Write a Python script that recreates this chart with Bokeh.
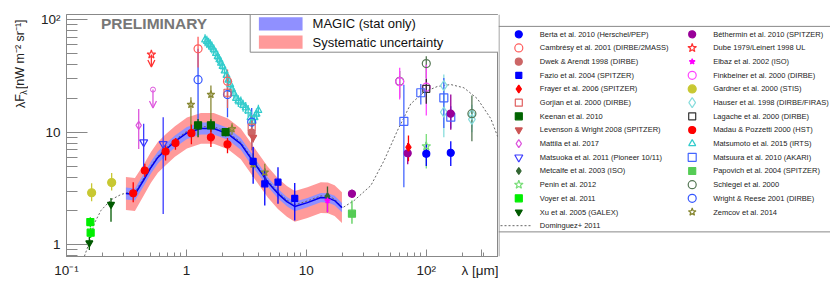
from bokeh.plotting import figure
from bokeh.layouts import row
from bokeh.models import Range1d, FixedTicker, Label, Arrow, OpenHead, Span, BoxAnnotation
from bokeh.core.properties import value
from bokeh.embed import file_html
from bokeh.resources import INLINE

FONT = "Liberation Sans"

# ---------------- MAGIC EBL band ----------------
magic_lam = [0.313, 0.372, 0.443, 0.506, 0.578, 0.675, 0.802, 1.01, 1.32, 1.69, 2.22, 2.84, 3.65,
             4.77, 5.79, 6.88, 8.0, 10.2, 13.2, 15.1, 17.2, 19.8]
magic_f = [2.85, 2.80, 3.80, 4.86, 5.97, 7.02, 8.27, 9.84, 10.8, 10.8, 9.67, 7.88, 5.38,
           3.60, 2.85, 2.42, 2.19, 2.37, 2.63, 2.61, 2.47, 2.14]
magic_stat_lo = [2.52, 2.48, 3.36, 4.30, 5.28, 6.21, 7.32, 8.71, 9.56, 9.56, 8.56, 6.97, 4.76,
                 3.27, 2.59, 2.20, 1.99, 2.15, 2.39, 2.37, 2.25, 1.95]
magic_stat_hi = [3.22, 3.16, 4.29, 5.49, 6.75, 7.93, 9.35, 11.1, 12.2, 12.2, 10.9, 8.90, 6.08,
                 3.96, 3.14, 2.66, 2.41, 2.61, 2.89, 2.87, 2.72, 2.35]
magic_syst_lo = [2.04, 2.00, 2.77, 3.55, 4.36, 5.12, 6.04, 7.18, 7.88, 7.88, 7.06, 5.75, 3.93,
                 2.63, 2.08, 1.77, 1.60, 1.73, 1.92, 1.91, 1.80, 1.56]
magic_syst_hi = [3.99, 3.92, 5.21, 6.66, 8.18, 9.62, 11.3, 13.5, 14.8, 14.8, 13.2, 10.8, 7.37,
                 4.93, 3.90, 3.32, 3.00, 3.25, 3.60, 3.58, 3.38, 2.93]

# ---------------- Dominguez+ 2011 model ----------------
dom_lam = [0.141, 0.155, 0.170, 0.194, 0.235, 0.285, 0.324, 0.372, 0.443, 0.506, 0.578, 0.675,
           0.802, 1.01, 1.32, 1.69, 2.22, 2.84, 3.65, 4.77, 5.79, 6.88, 8.0, 10.2, 13.2, 15.1,
           17.2, 20.0, 25.0, 34.5, 44.5, 57.5, 74.3, 95.9, 124, 160, 206, 267, 345, 400]
dom_f = [0.79, 1.05, 1.54, 2.02, 2.51, 2.80, 2.90, 2.92, 3.95, 5.0, 6.15, 7.25,
         8.55, 10.2, 11.2, 11.2, 10.0, 8.15, 5.55, 3.72, 2.95, 2.50, 2.26, 2.45, 2.72, 2.70,
         2.55, 2.13, 2.47, 3.36, 5.61, 10.35, 17.9, 22.7, 25.5, 26.5, 24.8, 19.8, 13.2, 8.74]

# ---------------- measurements: wavelength [um], value, lower, upper ----------------
berta_lam = [100, 160]; berta_f = [6.43, 6.56]; berta_lo = [5.0, 5.0]; berta_hi = [8.2, 8.3]
cambresy_lam = [1.25, 2.2]; cambresy_f = [55, 28.4]; cambresy_lo = [37.6, 20.8]; cambresy_hi = [70.3, 36]
dwek_lam = [3.5]; dwek_f = [9.9]; dwek_lo = [7.0]; dwek_hi = [12.8]
fazio_lam = [3.6, 4.5, 5.8, 8.0]; fazio_f = [5.5, 3.48, 3.6, 2.58]
fazio_lo = [3.48, 2.23, 2.31, 1.64]; fazio_hi = [7.37, 4.73, 4.89, 3.53]
frayer_lam = [71]; frayer_f = [7.35]; frayer_lo = [5.53]; frayer_hi = [9.36]
gorjian_lam = [2.2, 3.5]; gorjian_f = [22.4, 11.0]; gorjian_lo = [16.4, 7.7]; gorjian_hi = [28.4, 14.3]
keenan_lam = [1.25, 1.6, 2.12]; keenan_f = [11.5, 11.5, 10.0]
keenan_lo = [9.0, 10.0, 9.2]; keenan_hi = [13.1, 13.0, 10.8]
levenson_lam = [3.6]; levenson_f = [9.0]; levenson_lo = [8.1]; levenson_hi = [10.7]
mattila_lam = [0.40]; mattila_f = [11.5]; mattila_lo = [7.1]; mattila_hi = [16.1]
mattila_ul_lam = [0.526]; mattila_ul_f = [23.9]; mattila_ul_end = [16.4]
matsuoka_lam = [0.44, 0.64]; matsuoka_f = [8.15, 7.87]; matsuoka_lo = [4.4, 1.88]; matsuoka_hi = [11.9, 13.6]
metcalfe_lam = [15]; metcalfe_f = [2.69]; metcalfe_lo = [1.95]; metcalfe_hi = [3.29]
penin_lam = [100]; penin_f = [7.5]; penin_lo = [4.76]; penin_hi = [9.66]
voyer_lam = [0.158, 0.159]; voyer_f = [1.59, 1.28]; voyer_lo = [1.43, 1.15]; voyer_hi = [1.76, 1.42]
xu_lam = [0.155, 0.235]; xu_f = [1.04, 2.28]; xu_lo = [0.90, 1.60]; xu_hi = [1.18, 2.60]
bethermin_lam = [24, 70, 160]; bethermin_f = [2.84, 6.5, 14.6]
bethermin_lo = [2.6, 5.2, 10.5]; bethermin_hi = [3.1, 8.0, 21.6]
dube_lam = [0.51]; dube_f = [49]; dube_end = [37.9]
elbaz_lam = [15]; elbaz_f = [2.47]; elbaz_lo = [1.95]; elbaz_hi = [2.9]
finkbeiner_lam = [60, 100]; finkbeiner_f = [28.1, 25.1]; finkbeiner_lo = [19.5, 14.1]; finkbeiner_hi = [37.3, 39.7]
gardner_lam = [0.162, 0.238]; gardner_f = [2.9, 3.57]; gardner_lo = [2.44, 3.03]; gardner_hi = [3.52, 4.33]
hauser_lam = [140, 140, 240, 240]; hauser_f = [25.9, 15.1, 14.4, 13.0]
hauser_lo = [18, 9, 11, 10]; hauser_hi = [32.6, 22, 17.5, 16]
lagache_lam = [100]; lagache_f = [24.3]; lagache_lo = [17.9]; lagache_hi = [29.9]
madau_lam = [0.36, 0.45, 0.67, 0.81, 1.1, 1.6, 2.2]
madau_f = [2.87, 4.57, 6.74, 8.0, 9.8, 9.0, 7.8]
madau_lo = [2.39, 3.99, 5.6, 7.0, 7.8, 7.4, 6.5]
madau_hi = [3.6, 5.24, 7.73, 8.9, 11.7, 11.3, 8.9]
matsumoto_lam = [1.43, 1.48, 1.53, 1.58, 1.63, 1.69, 1.76, 1.82, 1.88, 1.94, 2.0, 2.08, 2.16, 2.24,
                 2.32, 2.40, 2.49, 2.59, 2.71, 2.84, 2.97, 3.12, 3.27, 3.42, 3.56, 3.70, 3.84, 3.98]
matsumoto_f = [66, 64, 62, 60, 57, 54, 50, 47, 44, 41, 38.5, 35, 32, 29,
               26.5, 24, 22, 20, 19, 18.5, 17.3, 16.5, 15.5, 13.5, 12.5, 13.5, 14.5, 15.6]
matsumoto_lo = [58, 56, 55, 53, 50, 47.5, 44, 41, 39, 36, 34, 31, 28, 25.5,
                23.3, 21, 19.4, 17.6, 16.7, 16.3, 15.2, 14.5, 13.6, 11.9, 11.0, 11.9, 12.8, 13.7]
matsumoto_hi = [74, 72, 69, 67, 64, 60, 56, 53, 49, 46, 43, 39, 36, 32.5,
                29.7, 27, 24.6, 22.4, 21.3, 20.7, 19.4, 18.5, 17.4, 15.1, 14.0, 15.1, 16.2, 17.5]
matsuura_lam = [65, 90, 140, 160]; matsuura_f = [12.5, 22.4, 20.2, 13.6]
matsuura_lo = [3.25, 17.6, 10.9, 10.8]; matsuura_hi = [26.4, 26.8, 30.3, 17.0]
papovich_lam = [24]; papovich_f = [1.89]; papovich_lo = [1.54]; papovich_hi = [2.48]
schlegel_lam = [60, 100, 240]; schlegel_f = [28.3, 40.7, 14.6]
schlegel_lo = [20.2, 30.3, 8.3]; schlegel_hi = [34.9, 47.3, 21.2]
wright_lam = [1.25, 2.2, 3.5]; wright_f = [29.3, 21.6, 12.3]
wright_lo = [10.8, 13.6, 6.9]; wright_hi = [55, 28.8, 16.4]
zemcov_lam = [1.09, 1.6, 2.4, 3.6, 4.5]; zemcov_f = [17.6, 21.6, 10.7, 5.2, 4.4]
zemcov_lo = [9.7, 11.1, 9.5, 4.0, 3.7]; zemcov_hi = [20.4, 26.0, 12.0, 6.5, 5.24]

# axis ticks and labels
x_ticks = [0.1, 1, 10, 100]
x_tick_labels = ["10⁻¹", "1", "10", "10²"]
x_title_pos = 287
x_title = "λ [μm]"
y_ticks = [1, 10, 100]
y_tick_labels = ["1", "10", "10²"]
y_title_parts = ["λF", "λ", "[nW m⁻² sr⁻¹]"]

# legend texts
left_names = ["Berta et al. 2010 (Herschel/PEP)", "Cambrésy et al. 2001 (DIRBE/2MASS)",
              "Dwek & Arendt 1998 (DIRBE)", "Fazio et al. 2004 (SPITZER)",
              "Frayer et al. 2006 (SPITZER)", "Gorjian et al. 2000 (DIRBE)", "Keenan et al. 2010",
              "Levenson & Wright 2008 (SPITZER)", "Mattila et al. 2017",
              "Matsuoka et al. 2011 (Pioneer 10/11)", "Metcalfe et al. 2003 (ISO)",
              "Penin et al. 2012", "Voyer et al. 2011", "Xu et al. 2005 (GALEX)"]
right_names = ["Béthermin et al. 2010 (SPITZER)", "Dube 1979/Leinert 1998 UL",
               "Elbaz et al. 2002 (ISO)", "Finkbeiner et al. 2000 (DIRBE)",
               "Gardner et al. 2000 (STIS)", "Hauser et al. 1998 (DIRBE/FIRAS)",
               "Lagache et al. 2000 (DIRBE)", "Madau & Pozzetti 2000 (HST)",
               "Matsumoto et al. 2015 (IRTS)", "Matsuura et al. 2010 (AKARI)",
               "Papovich et al. 2004 (SPITZER)", "Schlegel et al. 2000",
               "Wright & Reese 2001 (DIRBE)", "Zemcov et al. 2014"]
model_name = "Dominguez+ 2011"

# marker styles: (marker, colour, filled, size)
ST = {
    "berta": ("circle", "#0000ff", True, 7), "cambresy": ("circle", "#ff5c5c", False, 8),
    "dwek": ("circle", "#cc6666", True, 7), "fazio": ("square", "#0000ff", True, 6),
    "frayer": ("diamond", "#ff0000", True, 8), "gorjian": ("square", "#e06060", False, 7),
    "keenan": ("square", "#006400", True, 7), "levenson": ("inverted_triangle", "#cc5555", True, 7),
    "mattila": ("diamond", "#dd55dd", False, 8), "matsuoka": ("inverted_triangle", "#3a3aff", False, 8),
    "metcalfe": ("diamond", "#336633", True, 7), "penin": ("star", "#77dd77", False, 9),
    "voyer": ("square", "#00ee00", True, 7), "xu": ("inverted_triangle", "#005a00", True, 7),
    "bethermin": ("circle", "#990099", True, 7), "dube": ("star", "#ff3333", False, 9),
    "elbaz": ("star", "#ff00ff", True, 6), "finkbeiner": ("circle", "#ff44ff", False, 8),
    "gardner": ("circle", "#c8c832", True, 8), "hauser": ("diamond", "#88dddd", False, 10),
    "lagache": ("square", "#333333", False, 7), "madau": ("circle", "#ff0000", True, 7),
    "matsumoto": ("triangle", "#33cccc", False, 7), "matsuura": ("square", "#4466ff", False, 8),
    "papovich": ("square", "#55cc55", True, 7), "schlegel": ("circle", "#557755", False, 8),
    "wright": ("circle", "#3355ff", False, 8), "zemcov": ("star", "#888833", False, 8),
}
left_keys = ["berta", "cambresy", "dwek", "fazio", "frayer", "gorjian", "keenan", "levenson",
             "mattila", "matsuoka", "metcalfe", "penin", "voyer", "xu"]
right_keys = ["bethermin", "dube", "elbaz", "finkbeiner", "gardner", "hauser", "lagache", "madau",
              "matsumoto", "matsuura", "papovich", "schlegel", "wright", "zemcov"]

# reference-pixel -> data helpers (layout only)
def lx(px):
    return 10 ** ((px - 185.5) / 120.0)

def ly(py):
    return 10 ** ((244.3 - py) / 112.6)

GRAY = "#888888"
H = 285
YL_W = 28

# ---------------- y-axis title strip ----------------
yl = figure(width=YL_W, height=H, x_range=Range1d(0, YL_W), y_range=Range1d(0, H),
            output_backend="svg", toolbar_location=None, title=None,
            x_axis_location=None, y_axis_location=None, min_border=0)
yl.grid.visible = False
yl.outline_line_color = None
yl.background_fill_color = "white"
yl.border_fill_color = "white"
# (x, y-from-top, size) for each part of the rotated title
for txt, xx, yy, fs in zip(y_title_parts, [20, 23.5, 20], [110, 94.5, 88],
                           ["12.5px", "9px", "12.5px"]):
    yl.text(x=[xx], y=[H - yy], text=[txt], angle=1.5708, text_font=value(FONT),
            text_font_size=fs, text_align="left", text_baseline="middle", text_color="#222222")

# ---------------- main plot ----------------
p = figure(width=498 - YL_W, height=H, x_axis_type="log", y_axis_type="log",
           x_range=Range1d(0.1, 400), y_range=Range1d(0.787, 111),
           output_backend="svg", toolbar_location=None, title=None,
           min_border_left=66 - YL_W, min_border_right=0, min_border_top=14, min_border_bottom=29)
p.grid.visible = False
p.outline_line_color = GRAY
p.outline_line_alpha = 1.0
p.background_fill_color = "white"
p.border_fill_color = "white"

p.xaxis.ticker = FixedTicker(ticks=x_ticks + [x_title_pos],
                             minor_ticks=[0.2, 0.3, 0.4, 0.5, 0.6, 0.7, 0.8, 0.9,
                                          2, 3, 4, 5, 6, 7, 8, 9,
                                          20, 30, 40, 50, 60, 70, 80, 90, 200, 300, 400])
ov = {t: s for t, s in zip(x_ticks, x_tick_labels)}
ov[x_title_pos] = x_title
p.xaxis.major_label_overrides = ov
p.yaxis.ticker = FixedTicker(ticks=y_ticks,
                             minor_ticks=[0.8, 0.9, 2, 3, 4, 5, 6, 7, 8, 9,
                                          20, 30, 40, 50, 60, 70, 80, 90])
p.yaxis.major_label_overrides = {t: s for t, s in zip(y_ticks, y_tick_labels)}
for ax in (p.xaxis, p.yaxis):
    ax.axis_line_color = GRAY
    ax.major_tick_line_color = GRAY
    ax.minor_tick_line_color = GRAY
    ax.major_tick_out = 0
    ax.minor_tick_out = 0
    ax.major_label_text_font = FONT
    ax.major_label_text_font_size = "13.5px"
    ax.major_label_text_color = "#222222"
    ax.major_label_standoff = 6
p.yaxis.major_tick_in = 21
p.yaxis.minor_tick_in = 11
p.xaxis.major_tick_in = 7
p.xaxis.minor_tick_in = 4

# bands
p.varea(x=magic_lam, y1=magic_syst_lo, y2=magic_syst_hi, fill_color="#ff9a9a")
p.varea(x=magic_lam, y1=magic_stat_lo, y2=magic_stat_hi, fill_color="#9090ff")
p.line(dom_lam, dom_f, line_color="#666666", line_width=1, line_dash="2 2")
p.line(magic_lam, magic_f, line_color="#0000ee", line_width=1.5)

datasets = [
    ("matsumoto", matsumoto_lam, matsumoto_f, matsumoto_lo, matsumoto_hi),
    ("hauser", hauser_lam, hauser_f, hauser_lo, hauser_hi),
    ("schlegel", schlegel_lam, schlegel_f, schlegel_lo, schlegel_hi),
    ("finkbeiner", finkbeiner_lam, finkbeiner_f, finkbeiner_lo, finkbeiner_hi),
    ("lagache", lagache_lam, lagache_f, lagache_lo, lagache_hi),
    ("matsuura", matsuura_lam, matsuura_f, matsuura_lo, matsuura_hi),
    ("penin", penin_lam, penin_f, penin_lo, penin_hi),
    ("wright", wright_lam, wright_f, wright_lo, wright_hi),
    ("cambresy", cambresy_lam, cambresy_f, cambresy_lo, cambresy_hi),
    ("gorjian", gorjian_lam, gorjian_f, gorjian_lo, gorjian_hi),
    ("dwek", dwek_lam, dwek_f, dwek_lo, dwek_hi),
    ("levenson", levenson_lam, levenson_f, levenson_lo, levenson_hi),
    ("zemcov", zemcov_lam, zemcov_f, zemcov_lo, zemcov_hi),
    ("mattila", mattila_lam, mattila_f, mattila_lo, mattila_hi),
    ("matsuoka", matsuoka_lam, matsuoka_f, matsuoka_lo, matsuoka_hi),
    ("keenan", keenan_lam, keenan_f, keenan_lo, keenan_hi),
    ("madau", madau_lam, madau_f, madau_lo, madau_hi),
    ("fazio", fazio_lam, fazio_f, fazio_lo, fazio_hi),
    ("metcalfe", metcalfe_lam, metcalfe_f, metcalfe_lo, metcalfe_hi),
    ("elbaz", elbaz_lam, elbaz_f, elbaz_lo, elbaz_hi),
    ("papovich", papovich_lam, papovich_f, papovich_lo, papovich_hi),
    ("bethermin", bethermin_lam, bethermin_f, bethermin_lo, bethermin_hi),
    ("frayer", frayer_lam, frayer_f, frayer_lo, frayer_hi),
    ("berta", berta_lam, berta_f, berta_lo, berta_hi),
    ("gardner", gardner_lam, gardner_f, gardner_lo, gardner_hi),
    ("voyer", voyer_lam, voyer_f, voyer_lo, voyer_hi),
    ("xu", xu_lam, xu_f, xu_lo, xu_hi),
]

def draw_marker(fig, key, xs, ys):
    m, c, filled, s = ST[key]
    fig.scatter(xs, ys, marker=m, size=s, line_color=c, line_width=1.2,
                fill_color=c if filled else None)

for key, lam, f, lo, hi in datasets:
    c = ST[key][1]
    p.segment(x0=lam, y0=lo, x1=lam, y1=hi, line_color=c, line_width=1.3)
for key, lam, f, lo, hi in datasets:
    draw_marker(p, key, lam, f)

# upper limits
p.add_layout(Arrow(end=OpenHead(size=7, line_color=ST["dube"][1], line_width=1.3),
                   x_start=dube_lam[0], y_start=dube_f[0], x_end=dube_lam[0], y_end=dube_end[0],
                   line_color=ST["dube"][1], line_width=1.3))
draw_marker(p, "dube", dube_lam, dube_f)
p.add_layout(Arrow(end=OpenHead(size=7, line_color=ST["mattila"][1], line_width=1.3),
                   x_start=mattila_ul_lam[0], y_start=mattila_ul_f[0], x_end=mattila_ul_lam[0],
                   y_end=mattila_ul_end[0], line_color=ST["mattila"][1], line_width=1.3))
p.scatter(mattila_ul_lam, mattila_ul_f, marker="circle", size=5, line_color=ST["mattila"][1],
          fill_color=None)

# MAGIC legend box
p.add_layout(BoxAnnotation(left=lx(249.3), bottom=ly(51.7), fill_color="white", fill_alpha=1,
                           line_color=GRAY, line_width=1, line_alpha=1))
p.add_layout(BoxAnnotation(left=lx(258), right=lx(301.7), top=ly(16.7), bottom=ly(30),
                           fill_color="#9090ff", fill_alpha=1, line_alpha=0))
p.add_layout(BoxAnnotation(left=lx(258), right=lx(301.7), top=ly(35), bottom=ly(48.3),
                           fill_color="#ff9a9a", fill_alpha=1, line_alpha=0))
for txt, yy in (("MAGIC (stat only)", 23.3), ("Systematic uncertainty", 41.7)):
    p.add_layout(Label(x=lx(311.7), y=ly(yy), text=txt, text_font=FONT, text_font_size="13px",
                       text_baseline="middle", text_align="left", text_color="#111111"))

p.add_layout(Label(x=lx(100), y=ly(23.3), text="PRELIMINARY", text_font=FONT,
                   text_font_size="15.5px", text_font_style="bold", text_color="#777777",
                   text_baseline="middle", text_align="left"))

# ---------------- legend panel ----------------
lg = figure(width=332, height=H, x_range=Range1d(0, 332), y_range=Range1d(H, 0),
            output_backend="svg", toolbar_location=None, title=None,
            x_axis_location=None, y_axis_location=None, min_border=0)
lg.grid.visible = False
lg.outline_line_color = None
lg.background_fill_color = "white"
lg.border_fill_color = "white"
for loc, dim in ((14, "width"), (256, "width"), (0.5, "height")):
    lg.add_layout(Span(location=loc, dimension=dim, line_color=GRAY, line_width=1))

row0, drow = 23.3, 16.1
xl_m, xl_t, xr_m, xr_t = 20.3, 41.3, 193.7, 214.7
for i, key in enumerate(left_keys):
    draw_marker(lg, key, [xl_m], [row0 + i * drow])
for i, key in enumerate(right_keys):
    draw_marker(lg, key, [xr_m], [row0 + i * drow])
ydom = row0 + len(left_keys) * drow
lg.line([2, 34], [ydom, ydom], line_color="#666666", line_width=1, line_dash="2 2")
lg.text(x=[xl_t] * (len(left_names) + 1), y=[row0 + i * drow for i in range(len(left_names) + 1)],
        text=left_names + [model_name], text_font=value(FONT), text_font_size="7.5px",
        text_baseline="middle", text_align="left", text_color="#222222")
lg.text(x=[xr_t] * len(right_names), y=[row0 + i * drow for i in range(len(right_names))],
        text=right_names, text_font=value(FONT), text_font_size="7.5px",
        text_baseline="middle", text_align="left", text_color="#222222")

layout = row(yl, p, lg)
open("out.html", "w").write(file_html(layout, INLINE))
